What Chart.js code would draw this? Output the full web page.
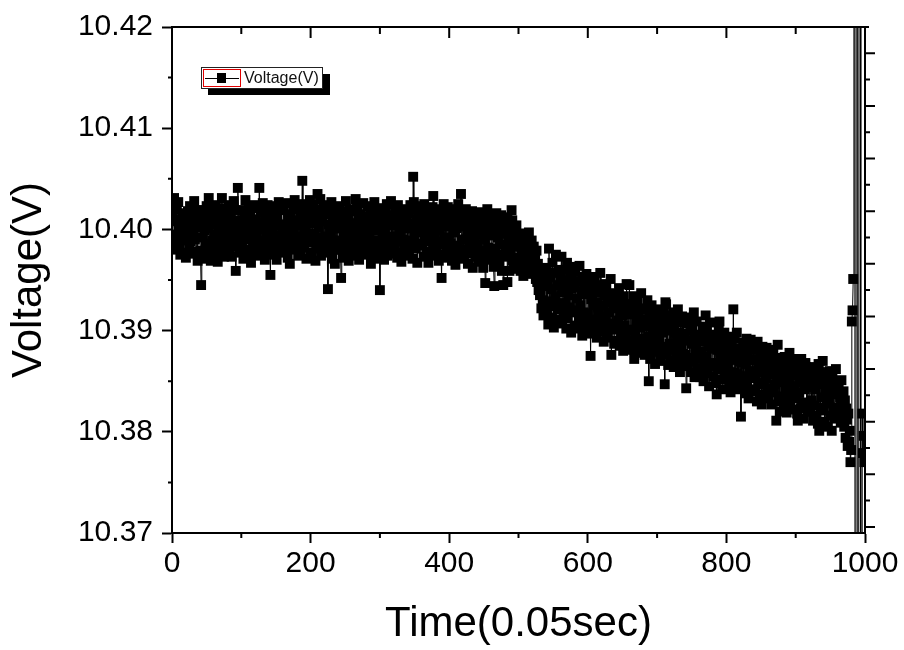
<!DOCTYPE html>
<html>
<head>
<meta charset="utf-8">
<script src="https://cdn.jsdelivr.net/npm/chart.js@4.4.1/dist/chart.umd.min.js"></script>
<style>
  html, body { margin: 0; padding: 0; background: #fff; }
  #wrap { width: 904px; height: 650px; }
</style>
</head>
<body>
<div id="wrap"><canvas id="c" width="904" height="650"></canvas></div>
<script>
// ---- data ----
const seriesName = 'Voltage(V)';
const xTitle = 'Time(0.05sec)';
const yTitle = 'Voltage(V)';
const xTickLabels = [0, 200, 400, 600, 800, 1000];
const xMinorTicks = [100, 300, 500, 700, 900];
const yTickLabels = ['10.37', '10.38', '10.39', '10.40', '10.41', '10.42'];
const yMinorTicks = [10.375, 10.385, 10.395, 10.405, 10.415];

// one sample every 0.05 s, sample index 0..999
const voltage = [
10.4014,10.3991,10.4024,10.4031,10.3980,10.4008,10.3995,10.4020,10.3986,10.4027,10.3984,10.4003,10.3975,10.4010,10.3999,10.3989,10.4016,10.3977,10.4006,10.3994,
10.3972,10.4007,10.3993,10.4018,10.4001,10.3982,10.4023,10.3988,10.4005,10.3976,10.4012,10.3997,10.4028,10.3990,10.4015,10.3978,10.4002,10.3969,10.4010,10.4019,
10.4004,10.3979,10.3945,10.4019,10.3992,10.4009,10.3971,10.3999,10.4014,10.3986,10.4023,10.3976,10.4001,10.4031,10.3983,10.4005,10.3969,10.4012,10.3989,10.4018,
10.3986,10.4016,10.3995,10.4024,10.3977,10.4005,10.3968,10.4012,10.3999,10.3982,10.4021,10.3990,10.4031,10.3980,10.4008,10.3973,10.4002,10.4018,10.3993,10.3984,
10.4012,10.3990,10.4024,10.3979,10.4003,10.4016,10.3973,10.4007,10.3995,10.4028,10.3983,10.4009,10.3959,10.4000,10.3987,10.4041,10.4019,10.3977,10.4004,10.3992,
10.4019,10.3984,10.4005,10.3971,10.4014,10.3995,10.4029,10.3980,10.4007,10.3990,10.4021,10.3975,10.4001,10.4012,10.3967,10.4010,10.3993,10.4024,10.3986,10.4002,
10.3982,10.4009,10.3995,10.4021,10.3974,10.4006,10.4041,10.3989,10.4017,10.3979,10.4000,10.4026,10.3986,10.4007,10.3970,10.4015,10.3998,10.3978,10.4024,10.4004,
10.4009,10.3989,10.3955,10.4017,10.3981,10.4001,10.4023,10.3975,10.4006,10.3994,10.4014,10.3970,10.4010,10.3987,10.4027,10.3992,10.4004,10.3979,10.4019,10.3984,
10.4000,10.4020,10.3977,10.4005,10.3985,10.4026,10.3993,10.3972,10.4011,10.4002,10.3966,10.4015,10.3988,10.4007,10.3980,10.4022,10.3996,10.4029,10.3983,10.4004,
10.3984,10.4009,10.3974,10.4020,10.3993,10.4013,10.3979,10.4004,10.4048,10.3990,10.4025,10.3982,10.4001,10.4016,10.3971,10.4008,10.3996,10.4022,10.3987,10.4029,
10.4006,10.3977,10.4016,10.3989,10.4025,10.3996,10.4011,10.3969,10.4020,10.3985,10.4035,10.3992,10.4002,10.3981,10.4030,10.3974,10.4008,10.4013,10.3991,10.4022,
10.3985,10.4015,10.3993,10.4024,10.3977,10.3941,10.4005,10.3983,10.4020,10.3996,10.4027,10.3971,10.4007,10.3989,10.4013,10.3966,10.4001,10.4018,10.3980,10.4009,
10.4012,10.3989,10.4023,10.3980,10.3952,10.4003,10.3972,10.4018,10.3994,10.4008,10.3977,10.4028,10.3986,10.3999,10.4015,10.3969,10.4020,10.3991,10.4006,10.3982,
10.3992,10.4018,10.3974,10.4006,10.4000,10.4030,10.3983,10.4023,10.3989,10.4010,10.3970,10.4002,10.4015,10.3977,10.4007,10.3994,10.4026,10.3980,10.4004,10.3985,
10.4013,10.3986,10.4023,10.3975,10.4001,10.3995,10.4019,10.3966,10.4008,10.3980,10.4016,10.3989,10.4027,10.3971,10.3999,10.4009,10.3978,10.4004,10.3987,10.4018,
10.3940,10.4006,10.3979,10.4021,10.3991,10.4012,10.3970,10.4000,10.4017,10.3984,10.4025,10.3974,10.4004,10.3993,10.4014,10.3982,10.4028,10.3988,10.4008,10.3976,
10.4004,10.3981,10.4019,10.3993,10.4010,10.3972,10.4024,10.3988,10.3998,10.3977,10.4014,10.3968,10.4007,10.4020,10.3990,10.4001,10.3984,10.4017,10.3974,10.4011,
10.3989,10.4016,10.3977,10.4006,10.4024,10.3984,10.4001,10.3971,10.4052,10.4027,10.3993,10.4020,10.3981,10.4010,10.3967,10.4014,10.3997,10.4023,10.3986,10.4003,
10.4016,10.3984,10.4004,10.3973,10.4025,10.3992,10.4010,10.3978,10.3997,10.4019,10.3967,10.4006,10.3988,10.4013,10.3974,10.4001,10.4022,10.4033,10.3982,10.3993,
10.4004,10.3978,10.4020,10.3988,10.4011,10.3969,10.3999,10.4016,10.3985,10.3952,10.4008,10.3975,10.4025,10.3992,10.4003,10.3972,10.4013,10.3982,10.4022,10.3990,
10.3980,10.4015,10.3986,10.4006,10.3969,10.4020,10.3997,10.3976,10.4011,10.3965,10.4001,10.4008,10.3984,10.4025,10.3973,10.4003,10.4017,10.4035,10.3990,10.3978,
10.4003,10.3971,10.4011,10.3990,10.4020,10.3980,10.3998,10.3966,10.4015,10.3985,10.4007,10.3976,10.3994,10.4018,10.3962,10.4005,10.3988,10.4013,10.3973,10.4001,
10.3984,10.4007,10.3968,10.4017,10.3979,10.3995,10.4012,10.3974,10.4000,10.3962,10.4004,10.3990,10.3947,10.4009,10.3970,10.4020,10.3982,10.3998,10.3975,10.4014,
10.4001,10.3971,10.3994,10.4011,10.3963,10.3944,10.4003,10.3981,10.4016,10.3975,10.3992,10.4007,10.3967,10.3998,10.3985,10.4014,10.3959,10.4005,10.3945,10.3996,
10.3973,10.4006,10.3981,10.4012,10.3948,10.3995,10.3987,10.3959,10.4002,10.3977,10.4019,10.4009,10.3969,10.3991,10.3961,10.3999,10.3983,10.4004,10.3972,10.3994,
10.3990,10.3967,10.3996,10.3959,10.3982,10.3973,10.3994,10.3954,10.3985,10.3963,10.3978,10.3992,10.3956,10.3987,10.3970,10.3997,10.3961,10.3980,10.3965,10.3989,
10.3975,10.3962,10.3983,10.3957,10.3970,10.3951,10.3979,10.3948,10.3966,10.3940,10.3958,10.3935,10.3949,10.3922,10.3961,10.3930,10.3915,10.3944,10.3926,10.3952,
10.3962,10.3919,10.3947,10.3906,10.3981,10.3929,10.3953,10.3913,10.3941,10.3967,10.3924,10.3903,10.3957,10.3933,10.3975,10.3911,10.3945,10.3922,10.3960,10.3927,
10.3921,10.3952,10.3973,10.3907,10.3938,10.3916,10.3960,10.3927,10.3945,10.3902,10.3967,10.3912,10.3935,10.3950,10.3923,10.3956,10.3898,10.3942,10.3918,10.3963,
10.3943,10.3905,10.3958,10.3920,10.3932,10.3902,10.3949,10.3914,10.3964,10.3925,10.3909,10.3939,10.3895,10.3953,10.3918,10.3946,10.3904,10.3936,10.3956,10.3912,
10.3917,10.3941,10.3907,10.3948,10.3875,10.3931,10.3897,10.3936,10.3925,10.3902,10.3953,10.3911,10.3945,10.3893,10.3928,10.3919,10.3938,10.3899,10.3957,10.3913,
10.3941,10.3904,10.3925,10.3889,10.3935,10.3913,10.3946,10.3898,10.3928,10.3893,10.3918,10.3937,10.3907,10.3951,10.3876,10.3931,10.3901,10.3922,10.3887,10.3927,
10.3903,10.3936,10.3890,10.3924,10.3910,10.3942,10.3885,10.3917,10.3930,10.3897,10.3915,10.3880,10.3934,10.3905,10.3926,10.3891,10.3946,10.3900,10.3920,10.3887,
10.3945,10.3890,10.3916,10.3881,10.3926,10.3901,10.3934,10.3872,10.3920,10.3896,10.3909,10.3930,10.3887,10.3914,10.3878,10.3922,10.3903,10.3937,10.3892,10.3911,
10.3890,10.3921,10.3876,10.3911,10.3904,10.3882,10.3930,10.3894,10.3850,10.3916,10.3872,10.3908,10.3925,10.3887,10.3901,10.3879,10.3919,10.3867,10.3913,10.3896,
10.3913,10.3881,10.3921,10.3890,10.3904,10.3870,10.3910,10.3876,10.3898,10.3918,10.3884,10.3847,10.3928,10.3926,10.3879,10.3901,10.3866,10.3915,10.3887,10.3906,
10.3870,10.3900,10.3887,10.3918,10.3864,10.3904,10.3881,10.3911,10.3875,10.3894,10.3921,10.3867,10.3898,10.3859,10.3908,10.3885,10.3914,10.3877,10.3891,10.3872,
10.3897,10.3876,10.3843,10.3907,10.3865,10.3890,10.3913,10.3873,10.3900,10.3859,10.3887,10.3904,10.3869,10.3918,10.3854,10.3894,10.3880,10.3909,10.3863,10.3892,
10.3872,10.3896,10.3854,10.3889,10.3879,10.3862,10.3904,10.3850,10.3893,10.3868,10.3915,10.3874,10.3899,10.3858,10.3884,10.3845,10.3892,10.3908,10.3865,10.3882,
10.3884,10.3855,10.3896,10.3868,10.3889,10.3848,10.3837,10.3881,10.3862,10.3901,10.3909,10.3852,10.3877,10.3892,10.3842,10.3887,10.3870,10.3898,10.3858,10.3882,
10.3854,10.3888,10.3863,10.3894,10.3845,10.3878,10.3839,10.3884,10.3871,10.3850,10.3921,10.3859,10.3892,10.3842,10.3874,10.3898,10.3857,10.3882,10.3848,10.3869,
10.3878,10.3815,10.3872,10.3844,10.3888,10.3855,10.3882,10.3838,10.3867,10.3892,10.3848,10.3874,10.3833,10.3884,10.3860,10.3891,10.3842,10.3871,10.3853,10.3881,
10.3840,10.3881,10.3854,10.3871,10.3830,10.3889,10.3847,10.3863,10.3837,10.3876,10.3859,10.3827,10.3884,10.3849,10.3873,10.3834,10.3868,10.3853,10.3883,10.3843,
10.3861,10.3833,10.3877,10.3843,10.3869,10.3827,10.3857,10.3881,10.3839,10.3864,10.3847,10.3873,10.3811,10.3856,10.3886,10.3830,10.3867,10.3820,10.3862,10.3849,
10.3867,10.3835,10.3853,10.3824,10.3874,10.3843,10.3862,10.3819,10.3869,10.3832,10.3849,10.3878,10.3828,10.3858,10.3839,10.3872,10.3822,10.3864,10.3845,10.3856,
10.3833,10.3858,10.3818,10.3811,10.3866,10.3839,10.3854,10.3823,10.3872,10.3829,10.3849,10.3813,10.3861,10.3842,10.3868,10.3864,10.3827,10.3852,10.3820,10.3857,
10.3844,10.3820,10.3860,10.3831,10.3852,10.3811,10.3864,10.3826,10.3842,10.3857,10.3816,10.3849,10.3808,10.3867,10.3801,10.3847,10.3824,10.3859,10.3834,10.3870,
10.3821,10.3850,10.3810,10.3843,10.3857,10.3828,10.3805,10.3848,10.3831,10.3860,10.3816,10.3839,10.3801,10.3854,10.3824,10.3845,10.3813,10.3837,10.3862,10.3819,
10.3838,10.3815,10.3846,10.3822,10.3834,10.3809,10.3851,10.3826,10.3817,10.3840,10.3805,10.3831,10.3794,10.3823,10.3812,10.3786,10.3818,10.3790,10.3801,10.3770,
10.3782,10.3909,10.3920,10.3951,10.52,10.52,10.21,10.21,10.53,10.53,10.22,10.22,10.52,10.52,10.21,10.21,10.3818,10.3779,10.3796,10.3770
];
const time = voltage.map((_, i) => i);

// ---- style ----
const FONT = '"Liberation Sans", Arial, sans-serif';
const rightTickStep = 0.0026;   // spacing of the plain right-hand axis ticks
const rightTickCount = 19;

const framePlugin = {
  id: 'frame',
  afterDraw(chart) {
    const { ctx, chartArea: a, scales: { x, y } } = chart;
    ctx.save();
    ctx.strokeStyle = '#000';
    ctx.lineWidth = 2;
    ctx.lineCap = 'butt';
    ctx.beginPath();
    ctx.moveTo(a.left, a.bottom + 1);
    ctx.lineTo(a.left, a.top);
    ctx.moveTo(a.left - 1, a.top);
    ctx.lineTo(a.right + 4, a.top);
    ctx.moveTo(a.right, a.top - 1);
    ctx.lineTo(a.right, a.bottom + 1);
    ctx.moveTo(a.left - 1, a.bottom);
    ctx.lineTo(a.right + 1, a.bottom);
    yMinorTicks.forEach(v => {
      const py = y.getPixelForValue(v);
      ctx.moveTo(a.left - 4, py); ctx.lineTo(a.left, py);
    });
    xMinorTicks.forEach(v => {
      const px = x.getPixelForValue(v);
      ctx.moveTo(px, a.bottom); ctx.lineTo(px, a.bottom + 5);
    });
    xTickLabels.slice(1, -1).forEach(v => {
      const px = x.getPixelForValue(v);
      ctx.moveTo(px, a.top); ctx.lineTo(px, a.top + 11);
    });
    xMinorTicks.forEach(v => {
      const px = x.getPixelForValue(v);
      ctx.moveTo(px, a.top); ctx.lineTo(px, a.top + 7);
    });
    const yMax = parseFloat(yTickLabels[yTickLabels.length - 1]);
    for (let k = 1; k <= rightTickCount; k++) {
      const py = y.getPixelForValue(yMax - k * rightTickStep);
      const len = (k % 2) ? 10 : 5;
      ctx.moveTo(a.right, py); ctx.lineTo(a.right + len, py);
    }
    ctx.stroke();
    ctx.restore();
  }
};

const legendPlugin = {
  id: 'legendBox',
  afterDraw(chart) {
    const ctx = chart.ctx;
    const label = chart.data.datasets[0].label;
    ctx.save();
    ctx.fillStyle = '#000';
    ctx.fillRect(208, 74, 122, 21);
    ctx.fillStyle = '#fff';
    ctx.fillRect(201, 67, 122, 21);
    ctx.lineWidth = 1;
    ctx.strokeStyle = '#222';
    ctx.strokeRect(201.5, 67.5, 121, 21);
    ctx.strokeStyle = '#e00000';
    ctx.strokeRect(203.5, 69.5, 37, 17);
    ctx.strokeStyle = '#000';
    ctx.beginPath();
    ctx.moveTo(205, 78.5); ctx.lineTo(239, 78.5);
    ctx.stroke();
    ctx.fillStyle = '#000';
    ctx.fillRect(217, 73, 9, 10);
    ctx.font = '16px ' + FONT;
    ctx.textBaseline = 'alphabetic';
    ctx.textAlign = 'left';
    ctx.fillStyle = '#111';
    ctx.fillText(label, 244, 83);
    ctx.restore();
  }
};

new Chart(document.getElementById('c'), {
  type: 'line',
  data: {
    datasets: [{
      label: seriesName,
      data: time.map((t, i) => ({ x: t, y: voltage[i] })),
      borderColor: '#000',
      borderWidth: 1,
      pointStyle: 'rect',
      pointRadius: 7,
      pointBorderWidth: 0,
      pointBackgroundColor: '#000',
      pointBorderColor: '#000',
      tension: 0,
      fill: false,
      clip: 0
    }]
  },
  options: {
    responsive: false,
    animation: false,
    events: [],
    layout: { padding: { left: 0, top: 21, right: 39, bottom: 0 } },
    plugins: { legend: { display: false }, tooltip: { enabled: false } },
    scales: {
      x: {
        type: 'linear', position: 'bottom', min: 0, max: 1000,
        afterBuildTicks: s => { s.ticks = xTickLabels.map(v => ({ value: v })); },
        afterFit: s => { s.height = 117; },
        ticks: {
          color: '#000', font: { family: FONT, size: 30 }, padding: 3,
          maxRotation: 0, autoSkip: false,
          callback: v => String(v)
        },
        grid: { display: true, drawOnChartArea: false, drawTicks: true, tickLength: 10, tickWidth: 2, tickColor: '#000' },
        border: { display: true, color: '#000', width: 2 },
        title: { display: true, text: xTitle, color: '#000', font: { family: FONT, size: 42 }, padding: { top: 0, bottom: 0 } }
      },
      y: {
        type: 'linear', position: 'left', min: 10.37, max: 10.42,
        afterBuildTicks: s => { s.ticks = yTickLabels.map(v => ({ value: parseFloat(v) })); },
        afterFit: s => { s.width = 172; },
        ticks: {
          color: '#000', font: { family: FONT, size: 30 }, padding: 9, autoSkip: false,
          callback: v => Number(v).toFixed(2)
        },
        grid: { display: true, drawOnChartArea: false, drawTicks: true, tickLength: 10, tickWidth: 2, tickColor: '#000' },
        border: { display: true, color: '#000', width: 2 },
        title: { display: true, text: yTitle, color: '#000', font: { family: FONT, size: 42 }, padding: { top: 4, bottom: 0 } }
      }
    }
  },
  plugins: [framePlugin, legendPlugin]
});
</script>
</body>
</html>
